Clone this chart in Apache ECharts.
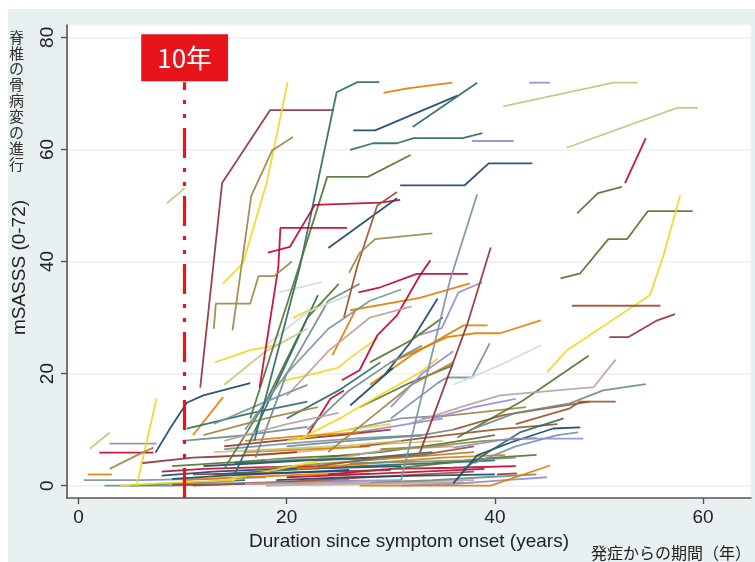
<!DOCTYPE html>
<html>
<head>
<meta charset="utf-8">
<script src="https://cdn.jsdelivr.net/npm/echarts@6/dist/echarts.min.js"></script>
<style>
html,body{margin:0;padding:0;background:#fff;}
#chart{width:755px;height:562px;}
</style>
</head>
<body>
<div id="chart"></div>
<script>
// ---- tick labels ----
const xTicks = [0, 20, 40, 60];
const yTicks = [0, 20, 40, 60, 80];
const markYear = 10.2;

// ---- trajectories: [duration (years), mSASSS] per patient ----
const upperTrajectories = [
  [[11.7,17.5],[13.8,54],[16.2,60.8],[18.4,67],[24.5,67]],
  [[13.9,36.1],[15.8,39.7],[18.1,54.2],[20.1,72]],
  [[14.8,27.7],[16.6,51.7],[18.6,59.8],[20.6,62.2]],
  [[16.9,8],[21.3,39.3],[24.8,70.2],[26.8,72],[28.9,72]],
  [[16.5,12],[21,38],[23.9,55.1],[27.8,55.1],[31.9,59]],
  [[18.2,41.6],[20.3,42.6],[22.7,50.1],[29,50.5],[30.9,51]],
  [[17.4,17.5],[19.2,39],[19.4,46],[25.8,46]],
  [[24,42.4],[30.6,51.3]],
  [[25.5,30],[26.8,39.3],[28.7,50],[30.6,52.4]],
  [[26,38],[27,41.5],[28.5,44],[34,45]],
  [[29.3,70.1],[31.6,70.9],[35.9,71.9]],
  [[26.4,63.4],[28.5,63.4],[36.4,69.6]],
  [[32.1,64],[38.3,71.9]],
  [[26.1,59.9],[28.3,61.1],[30.6,61.1],[32.2,62],[36.9,62],[38.8,62.9]],
  [[43.3,71.9],[45.3,71.9]],
  [[40.8,67.7],[51.4,71.9],[53.7,71.9]],
  [[37.8,61.5],[41.8,61.5]],
  [[46.9,60.3],[57.5,67.4],[59.5,67.4]],
  [[30.9,53.6],[37.1,53.6],[39.4,57.5],[43.6,57.5]],
  [[52.5,54],[54.5,62]],
  [[47.9,48.6],[49.9,52.2],[52.2,53.3]],
  [[46.3,37],[48.2,37.9],[50.9,44],[52.7,44],[54.7,49],[59,49]],
  [[45,20.2],[46.9,24.1],[54.9,34],[56.2,41.1],[57.8,51.8]],
  [[47.4,32.1],[55.9,32.1]],
  [[51,26.5],[52.8,26.5],[55.6,29.5],[57.3,30.6]],
  [[8.5,50.4],[10.2,53.1]],
  [[13,28],[13.2,32.5],[16.5,32.5],[17.3,37.4],[18.8,37.4],[20.5,40]],
  [[31,1],[35.7,36.7],[38.3,52]],
  [[32.8,5.9],[37.4,29.1],[39.6,42.5]]
];
const middleTrajectories = [
  [[26.9,34.5],[29,35.4],[32.5,37.8],[37.4,37.8]],
  [[26.1,31.3],[32.8,33.5],[37.6,36.1]],
  [[32.8,26.9],[34.9,28.1],[36.5,34.5],[38.8,36.3]],
  [[29.5,20],[31.9,25.6],[34.5,33.4]],
  [[28,18],[32,23.3],[37,28.6],[39.3,28.6]],
  [[30,22],[35.4,26.5],[38.1,27.2],[40.5,27.2],[44.4,29.5]],
  [[30,12],[34.5,18.3],[35.4,19.3],[37.8,19.3],[39.5,25.4]],
  [[36,18],[40.5,21.5],[44.4,25]],
  [[27,14],[31.9,18.4],[36,21.5]],
  [[27,0],[32.8,0],[39.6,0],[45.3,3.6]],
  [[36,0.4],[38.3,5.4],[41.5,7.7],[45.6,10.2],[48.2,10.4]],
  [[37,3],[39.3,5.9],[42.4,9.5],[46.6,12]],
  [[36,10],[40.8,12.6],[49.1,15]],
  [[40.2,2],[42.1,2.2]],
  [[36.4,8.6],[42.7,15.2],[49,23.2]],
  [[31.9,11.1],[36.7,14],[40.5,16.1],[49.5,17.6],[51.6,22.5]],
  [[37.6,9.9],[42,13],[47.2,14.7],[50.4,17],[54.5,18.1]],
  [[42,11],[47.2,13.8],[48.2,15],[51.6,15]],
  [[36,6.8],[41.5,8.4],[48.5,8.4]],
  [[19.2,34.5],[23.4,36.3]],
  [[13.1,22],[16.5,24.2],[19.4,25.2]],
  [[18.9,18.4],[22,19.7],[24.9,21],[26.1,22.8],[28.7,26.3]],
  [[20.6,29.9],[23.5,32.6]],
  [[21,8.1],[25.1,12],[28.9,16.1],[32.8,20.2],[34.5,22.7]],
  [[25.3,18.8],[27,20.6],[28.7,26.8],[30.6,30.4],[32.8,37.5],[33.8,40.2]],
  [[24.4,23.3],[26.6,31.3]],
  [[26.1,14.3],[30.2,21]],
  [[7.4,5.9],[8.8,10.2],[10.4,14.8],[12,16.1],[16.5,18.3]],
  [[5.6,0],[7.5,15.6]],
  [[1.1,6.6],[3,9.5]],
  [[0.9,2],[3.2,2]],
  [[11,9],[13.9,15.8]],
  [[3,3],[5.6,5.4],[7.2,6.8]],
  [[10.4,10.2],[16.5,12.9],[22,15]],
  [[14,3],[18,15],[22,30],[25,36]],
  [[15,2],[19,18],[23,34]],
  [[17,5],[20,20],[24,33],[27,36]],
  [[16,10],[20,20],[24,28],[28,33],[31,35]],
  [[18,25],[22,31],[26,34]],
  [[20,16],[24,24],[28,30],[32,32]],
  [[14,18],[18,24],[22,28]],
  [[22,10],[26,17],[30,22],[33,25]],
  [[24,6],[28,12],[32,18],[36,22]],
  [[20,12],[25,17],[29,22]],
  [[28,22],[32,26],[35,30]],
  [[30,14],[33,20],[36,24]],
  [[12,9],[18,12],[23,14]],
  [[13,11],[18,15],[22,18]],
  [[14,8],[20,11],[25,13]]
];
const lowerTrajectories = [
  [[0.5,1],[6,1],[12,1.2],[18,1.5]],
  [[2.5,0],[9,0],[15,0.3],[22,0.5],[27,0.8]],
  [[9,0.2],[14,0.3],[20,0.5],[26,1]],
  [[8,1.8],[13,2.5],[19,3],[25,3.2],[31,3.5]],
  [[8,2.5],[12,3],[18,3.3],[24,3.5]],
  [[10,0.4],[16,0.5],[23,0.8],[31,1]],
  [[9,3.5],[15,4.2],[21,5],[27,5.5]],
  [[10,1],[16,1.5],[22,2],[28,2.2]],
  [[12,5],[18,5.5],[24,6.5],[30,7.5],[35,8]],
  [[11,0],[18,0.5],[25,1.2],[33,2],[38,2.5]],
  [[14,6.5],[20,7.5],[27,8.5],[33,9]],
  [[13,2],[20,2.8],[27,3.5],[34,4],[40,4.5]],
  [[16,0.3],[24,0.6],[33,0.8],[38,1]],
  [[17,3],[24,4],[31,5],[38,6]],
  [[14,1],[18,2.5],[22,4],[27,5.5]],
  [[6,4],[11,5],[17,5.5],[21,6]],
  [[19,1],[26,1.5],[33,1.8],[40,2]],
  [[20,7],[26,8],[33,9],[36,10]],
  [[21,3],[28,4],[35,5],[41,5.5]],
  [[22,0],[30,0.2],[38,0.5]],
  [[23,5],[29,6],[35,7.5],[40,9]],
  [[24,2],[30,3],[36,3.2],[42,3.5]],
  [[25,9],[30,10.5],[35,12]],
  [[5,0],[10,0.5],[16,1]],
  [[18,4.5],[25,5],[30,6.5],[36,7]],
  [[12,3.5],[17,4],[22,4.5],[28,5]],
  [[3,7.5],[7.5,7.5]],
  [[2,5.9],[7.2,5.9]],
  [[28,0.5],[34,1],[39,1.5],[44,2]],
  [[26,10],[31,12],[35,12.5]],
  [[14,7],[19,8],[25,9],[30,10]],
  [[20,8],[26,10],[30,11]],
  [[30,3],[35,4],[40,5],[44,5.5]],
  [[16,6],[22,6.5],[28,7]],
  [[27,7],[33,8.5],[40,10],[46,11]],
  [[33,12],[38,13],[43,14]],
  [[38,4],[42,7],[46,9],[48,9.5]],
  [[34,12],[38,14],[42,15.5]],
  [[10,8],[16,9],[22,10.5]],
  [[22,9],[24.2,15.5],[25.5,17]],
  [[4,0],[9,0.5],[15,1]],
  [[11,2],[17,2.2],[24,2.5],[30,2.8]],
  [[15,4],[21,4.5],[27,4.8],[34,6]],
  [[18,0],[25,0.3],[32,0.5],[37,0.6]],
  [[13,6],[19,6.5],[26,7.2],[31,8]],
  [[20,1.5],[27,2],[33,2.5],[39,3]],
  [[23,3.5],[29,5],[33,5.5],[38,7]],
  [[9,1.2],[14,1.8],[20,2.3],[26,2.8]],
  [[26,4],[31,4.2],[37,4.5],[42,5]],
  [[29,6.5],[34,7],[39,8],[44,8.5]],
  [[16,8],[21,8.8],[27,9.5]],
  [[31,0],[36,0.3],[41,1],[45,1.5]]
];

// ---- styles ----
const palette = {
  navy:'#1a476f', maroon:'#90353b', forest:'#55752f', orange:'#e37e00',
  teal:'#6e8e84', cran:'#c10534', lav:'#938dd2', khaki:'#cac27e',
  sienna:'#a0522d', emid:'#7b92a8', emer:'#2d6d66', brown:'#9c8847',
  erose:'#bfa19c', gold:'#f2d61e', bgray:'#cfdbe0'
};
const upperColors = ['maroon','gold','brown','emer','forest','cran','cran','navy','sienna','brown',
  'orange','navy','emer','emer','lav','khaki','lav','khaki','navy','cran','forest','forest','gold',
  'sienna','maroon','khaki','brown','emid','maroon'];
const middleColors = ['cran','orange','lav','navy','orange','orange','emid','bgray','forest','orange',
  'navy','emer','sienna','maroon','forest','erose','teal','sienna','lav','bgray','gold','gold','gold',
  'gold','cran','orange','navy','navy','gold','khaki','orange','orange','brown','emer','forest','emer',
  'teal','emid','bgray','erose','khaki','teal','brown','emer','forest','lav','brown','emid','erose'];
const lowerColors = ['emid','teal','maroon','navy','cran','lav','forest','orange','khaki','sienna',
  'emid','emer','erose','brown','gold','maroon','navy','teal','orange','bgray','forest','cran','lav',
  'emer','erose','navy','emid','cran','teal','emid','maroon','gold','forest','orange','sienna','brown',
  'emid','lav','teal','cran','gold','maroon','emer','erose','khaki','cran','sienna','navy','teal',
  'brown','orange','lav'];

const series = [];
function addGroup(lines, colors) {
  lines.forEach((pts, i) => {
    series.push({
      type: 'line', data: pts, symbol: 'none', showSymbol: false, silent: true,
      animation: false, z: 2,
      lineStyle: { color: palette[colors[i % colors.length]], width: 1.8, opacity: 0.92 }
    });
  });
}
addGroup(lowerTrajectories, lowerColors);
addGroup(middleTrajectories, middleColors);
addGroup(upperTrajectories, upperColors);

// reference line at 10 years
series.push({
  type: 'line', data: [], silent: true, animation: false, z: 5,
  markLine: {
    silent: true, animation: false, symbol: ['none', 'none'],
    lineStyle: { color: '#e8141c', width: 3.2, type: [30, 10, 4, 10, 4, 10], opacity: 1 },
    label: {
      show: true, position: 'end', formatter: '10年', distance: 1,
      color: '#ffffff', backgroundColor: '#e8141c', padding: [8, 16, 8, 16],
      fontSize: 26, lineHeight: 31, fontFamily: '"Noto Sans CJK JP", "Noto Sans", sans-serif'
    },
    data: [[{ coord: [markYear, -2.2] }, { coord: [markYear, 72] }]]
  }
});

const FONT = '"Liberation Sans", Arial, Helvetica, sans-serif';
const chart = echarts.init(document.getElementById('chart'), null, { renderer: 'canvas' });
chart.setOption({
  animation: false,
  backgroundColor: '#ffffff',
  graphic: [{
    type: 'rect', left: 8, top: 9, z: -10,
    shape: { width: 747, height: 553 }, style: { fill: '#e8f0f1' }
  }],
  title: [{
    text: '脊椎の骨病変の進行'.split('').join('\n'),
    left: 9, top: 29, padding: 0,
    textStyle: { fontSize: 15, lineHeight: 15.9, fontWeight: 'normal', color: '#333',
      fontFamily: '"Noto Sans CJK JP", sans-serif' }
  }, {
    text: '発症からの期間（年）',
    right: 4, top: 544, padding: 0,
    textStyle: { fontSize: 16, lineHeight: 18, fontWeight: 'normal', color: '#222',
      fontFamily: '"Noto Sans CJK JP", sans-serif' }
  }],
  grid: {
    left: 67, right: 4, top: 25, bottom: 64, show: true,
    backgroundColor: '#ffffff', borderColor: '#f2f5f5', borderWidth: 1
  },
  xAxis: {
    type: 'value', min: -1.1, max: 64.6,
    name: 'Duration since symptom onset (years)', nameLocation: 'middle', nameGap: 33,
    nameTextStyle: { fontSize: 19, color: '#222', fontFamily: FONT },
    axisLine: { show: true, onZero: false, lineStyle: { color: '#555', width: 1.6 } },
    axisTick: { show: true, customValues: xTicks, length: 6, lineStyle: { color: '#555', width: 1.4 } },
    axisLabel: { customValues: xTicks, fontSize: 19, color: '#222', margin: 10, fontFamily: FONT },
    splitLine: { show: false }
  },
  yAxis: {
    type: 'value', min: -2.2, max: 82.2,
    name: 'mSASSS (0-72)', nameLocation: 'middle', nameGap: 38, nameRotate: 90,
    nameTextStyle: { fontSize: 19, color: '#222', fontFamily: FONT, padding: [0, 12, 0, 0] },
    axisLine: { show: true, onZero: false, lineStyle: { color: '#555', width: 1.6 } },
    axisTick: { show: true, customValues: yTicks, length: 6, lineStyle: { color: '#555', width: 1.4 } },
    axisLabel: { customValues: yTicks, rotate: 90, fontSize: 19, color: '#222', margin: 10, fontFamily: FONT },
    splitLine: { show: true, lineStyle: { color: '#eceff0', width: 1.5 } }
  },
  series: series
});
</script>
</body>
</html>
